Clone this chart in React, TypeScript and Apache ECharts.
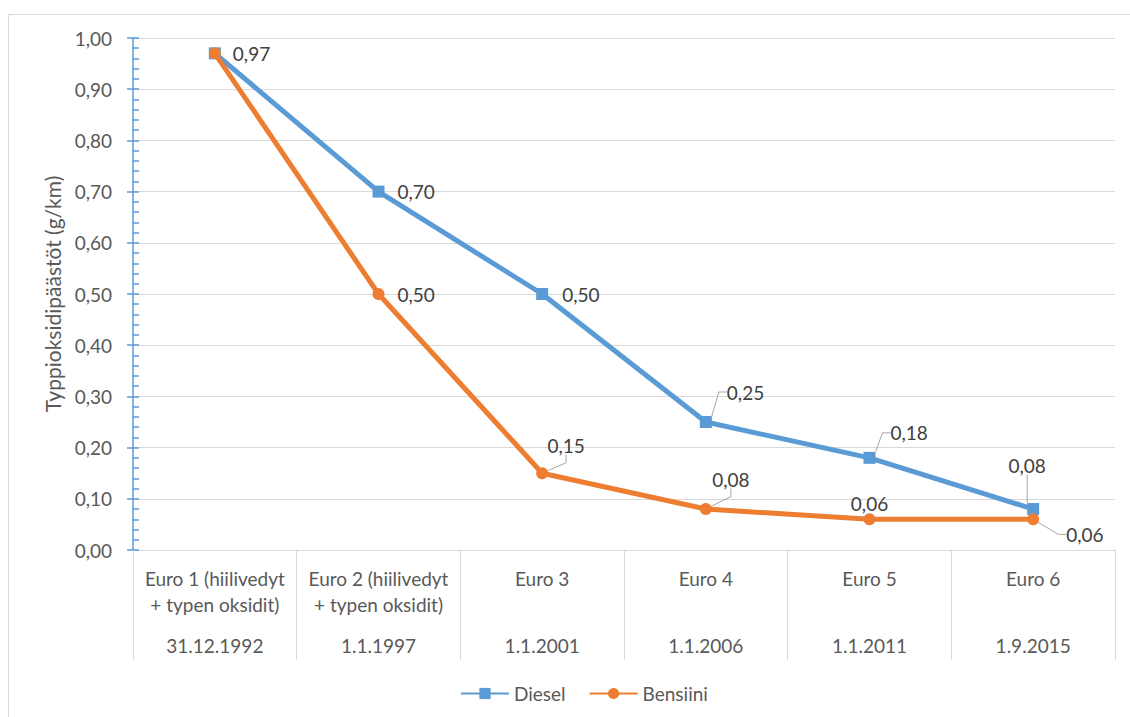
import { useEffect, useRef } from "react";
import * as echarts from "echarts";

// Euro emission classes (top row of the category axis) and the dates they took effect
const categories = [
  "Euro 1 (hiilivedyt\n+ typen oksidit)",
  "Euro 2 (hiilivedyt\n+ typen oksidit)",
  "Euro 3",
  "Euro 4",
  "Euro 5",
  "Euro 6",
];
const dates = ["31.12.1992", "1.1.1997", "1.1.2001", "1.1.2006", "1.1.2011", "1.9.2015"];

// NOx limits, g/km
const diesel = [0.97, 0.7, 0.5, 0.25, 0.18, 0.08];
const bensiini = [0.97, 0.5, 0.15, 0.08, 0.06, 0.06];

const yMin = 0;
const yMax = 1;
const yStep = 0.1;

// Label placement per point: [align, dx, dy, leader line, visible]
type LabelPos = [string, number, number, boolean, boolean];
const dieselLabelPos: LabelPos[] = [
  ["left", 18, 0, false, true],
  ["left", 19, 0, false, true],
  ["left", 20, 0, false, true],
  ["left", 21, -30, true, true],
  ["left", 21, -25, true, true],
  ["center", -6, -44, true, true],
];
const bensiiniLabelPos: LabelPos[] = [
  ["left", 18, 0, false, false],
  ["left", 19, 0, false, true],
  ["center", 24, -28, true, true],
  ["center", 25, -30, true, true],
  ["center", 0, -16, false, true],
  ["left", 33, 15, true, true],
];

const FONT = "Lato, 'Noto Sans', sans-serif";
const BLUE = "#5b9bd5";
const ORANGE = "#ed7d31";
const GRID = "#d9d9d9";
const TEXT = "#595959";

const fmt = (v: number) => v.toFixed(2).replace(".", ",");

function buildData(values: number[], pos: LabelPos[]) {
  return values.map((v, i) => ({
    value: v,
    label: { show: pos[i][4] },
    labelLine: { show: pos[i][3] },
  }));
}

function layoutFor(pos: LabelPos[]) {
  return (p: any) => {
    const o = pos[p.dataIndex];
    const cx = p.rect.x + p.rect.width / 2;
    const cy = p.rect.y + p.rect.height / 2;
    return { x: cx + o[1], y: cy + o[2], align: o[0], verticalAlign: "middle" };
  };
}

export default function App() {
  const ref = useRef<HTMLDivElement>(null);

  useEffect(() => {
    if (!ref.current) return;
    const chart = echarts.init(ref.current, undefined, { renderer: "svg" });

    const labelCommon = {
      show: true,
      formatter: (p: any) => fmt(p.value),
      fontFamily: FONT,
      fontSize: 19,
      color: "#404040",
    };
    const leader = {
      show: false,
      smooth: false,
      length2: 8,
      lineStyle: { color: "#a6a6a6", width: 1 },
    };

    chart.setOption({
      animation: false,
      backgroundColor: "#ffffff",
      textStyle: { fontFamily: FONT },
      graphic: [
        {
          type: "rect",
          silent: true,
          z: -10,
          shape: { x: 8.5, y: 14.5, width: 1200, height: 800 },
          style: { fill: "none", stroke: GRID, lineWidth: 1 },
        },
      ],
      grid: { left: 133, right: 15, top: 38, bottom: 167, containLabel: false },
      legend: {
        data: ["Diesel", "Bensiini"],
        left: 455,
        top: 679,
        itemWidth: 48,
        itemHeight: 14,
        itemGap: 23,
        textStyle: { fontFamily: FONT, fontSize: 19, color: TEXT },
      },
      xAxis: [
        {
          type: "category",
          data: categories,
          boundaryGap: true,
          axisLine: { show: true, lineStyle: { color: GRID, width: 1 } },
          axisTick: { show: true, length: 110, alignWithLabel: false, lineStyle: { color: GRID, width: 1 } },
          axisLabel: {
            interval: 0,
            margin: 15,
            fontFamily: FONT,
            fontSize: 19,
            lineHeight: 26,
            color: TEXT,
          },
          splitLine: { show: false },
        },
        {
          type: "category",
          data: dates,
          position: "bottom",
          boundaryGap: true,
          axisLine: { show: false },
          axisTick: { show: false },
          axisLabel: {
            interval: 0,
            margin: 82,
            fontFamily: FONT,
            fontSize: 19,
            lineHeight: 26,
            color: TEXT,
          },
          splitLine: { show: false },
        },
      ],
      yAxis: [
        {
          type: "value",
          min: yMin,
          max: yMax,
          interval: yStep,
          name: "Typpioksidipäästöt (g/km)",
          nameLocation: "middle",
          nameGap: 70,
          nameTextStyle: { fontFamily: FONT, fontSize: 21, color: TEXT },
          axisLine: { show: true, lineStyle: { color: BLUE, width: 1.5 } },
          axisTick: { show: true, inside: false, length: 6, lineStyle: { color: BLUE, width: 1.5 } },
          axisLabel: {
            margin: 21,
            formatter: (v: number) => fmt(v),
            fontFamily: FONT,
            fontSize: 19,
            color: TEXT,
          },
          splitLine: { show: true, lineStyle: { color: GRID, width: 1 } },
        },
        {
          type: "value",
          min: yMin,
          max: yMax,
          interval: yStep,
          position: "left",
          axisLine: { show: false },
          axisTick: { show: true, inside: true, length: 6, lineStyle: { color: BLUE, width: 1.5 } },
          minorTick: { show: true, splitNumber: 5, length: 6, lineStyle: { color: BLUE, width: 1.5 } },
          axisLabel: { show: false },
          splitLine: { show: false },
          minorSplitLine: { show: false },
        },
      ],
      series: [
        {
          name: "Diesel",
          type: "line",
          xAxisIndex: 0,
          yAxisIndex: 0,
          data: buildData(diesel, dieselLabelPos),
          color: BLUE,
          symbol: "rect",
          symbolSize: 12,
          lineStyle: { color: BLUE, width: 5 },
          itemStyle: { color: BLUE },
          label: labelCommon,
          labelLine: leader,
          labelLayout: layoutFor(dieselLabelPos),
          z: 2,
        },
        {
          name: "Bensiini",
          type: "line",
          xAxisIndex: 0,
          yAxisIndex: 0,
          data: buildData(bensiini, bensiiniLabelPos),
          color: ORANGE,
          symbol: "circle",
          symbolSize: 12,
          lineStyle: { color: ORANGE, width: 5 },
          itemStyle: { color: ORANGE },
          label: labelCommon,
          labelLine: leader,
          labelLayout: layoutFor(bensiiniLabelPos),
          z: 3,
        },
      ],
    });

    return () => chart.dispose();
  }, []);

  return (
    <div
      ref={ref}
      style={{ position: "absolute", left: 0, top: 0, width: 1130, height: 717 }}
    />
  );
}
